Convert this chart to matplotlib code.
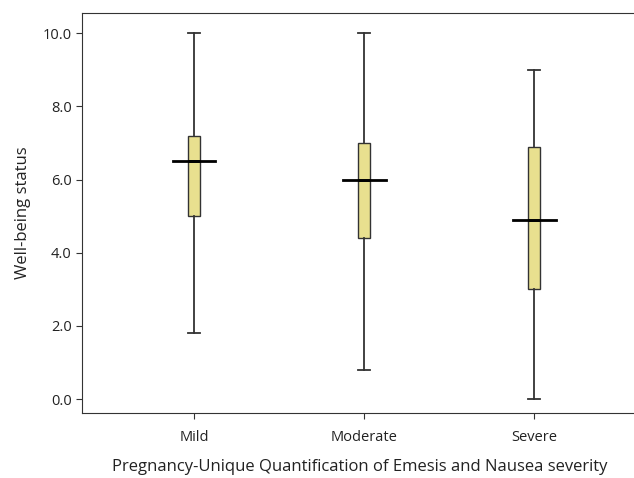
import matplotlib
matplotlib.use("Agg")
import matplotlib.pyplot as plt

plt.rcParams['font.family'] = ['Open Sans', 'DejaVu Sans']

categories = ['Mild', 'Moderate', 'Severe']
whisker_low = [1.8, 0.8, 0.0]
q1 = [5.0, 4.4, 3.0]
medians = [6.5, 6.0, 4.9]
q3 = [7.2, 7.0, 6.9]
whisker_high = [10.0, 10.0, 9.0]

stats = []
for i, name in enumerate(categories):
    stats.append({'label': name, 'whislo': whisker_low[i], 'q1': q1[i],
                  'med': medians[i], 'q3': q3[i], 'whishi': whisker_high[i],
                  'fliers': []})

fig = plt.figure(figsize=(6.34, 4.78), dpi=100)
ax = fig.add_axes([82 / 634, 65 / 478, 556 / 634, 400 / 478])

positions = list(range(len(categories)))
ax.bxp(stats, positions=positions, widths=0.07, patch_artist=True,
       boxprops=dict(facecolor='#e8e08f', edgecolor='#333333', linewidth=1.0),
       whiskerprops=dict(color='#333333', linewidth=1.3),
       capprops=dict(color='#333333', linewidth=1.3),
       medianprops=dict(color='black', linewidth=2.0),
       capwidths=0.07, showfliers=False)

# wider median bars
for i, m in enumerate(medians):
    ax.plot([positions[i] - 0.125, positions[i] + 0.125], [m, m], color='black', linewidth=2.0)

ax.set_xlim(-0.66, 2.61)
ax.set_ylim(-0.38, 10.55)
ax.set_yticks([0, 2, 4, 6, 8, 10])
ax.set_yticklabels(['0.0', '2.0', '4.0', '6.0', '8.0', '10.0'])
ax.set_xticks(positions)
ax.set_xticklabels(categories)
ax.tick_params(labelsize=10.5, color='#333333', length=4, labelcolor='#222222')
ax.tick_params(axis='x', pad=8)
for s in ax.spines.values():
    s.set_color('#333333')
ax.set_ylabel('Well-being status', fontsize=12, labelpad=8, color='#222222')
ax.set_xlabel('Pregnancy-Unique Quantification of Emesis and Nausea severity', fontsize=12, labelpad=10, color='#222222')

fig.savefig('out.png', dpi=100)
